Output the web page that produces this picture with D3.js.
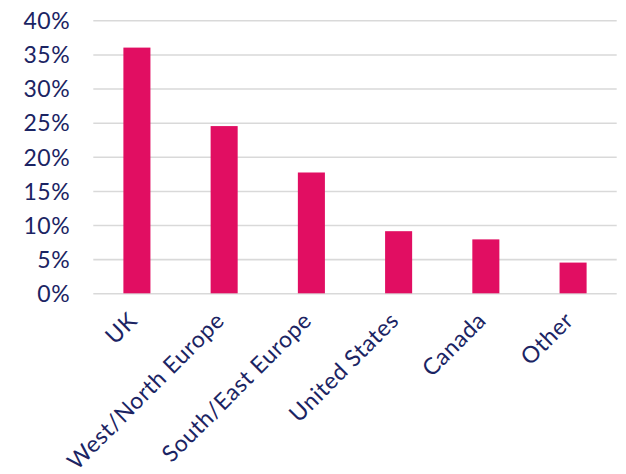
<!DOCTYPE html>
<html><head><meta charset="utf-8">
<script src="https://cdn.jsdelivr.net/npm/d3@7"></script>
<style>body{margin:0;background:#fff}svg{display:block}</style>
</head><body>
<script>
const categories = ["UK","West/North Europe","South/East Europe","United States","Canada","Other"];
const values = [36.0, 24.5, 17.7, 9.1, 7.9, 4.5];
const yTicks = [0,5,10,15,20,25,30,35,40];

const W = 626, H = 474;
const m = {left: 93.3, right: 9.3, top: 20.3, bottom: 180.7};
const svg = d3.select("body").append("svg").attr("width", W).attr("height", H);
const x = d3.scaleBand().domain(categories).range([m.left, W - m.right]).paddingInner(0.69).paddingOuter(0.345);
const y = d3.scaleLinear().domain([0, 40]).range([H - m.bottom, m.top]);
const navy = "#1b2463";
const font = "Lato, 'Open Sans', sans-serif";

const yAxis = svg.append("g").attr("transform", `translate(${m.left},0)`)
  .call(d3.axisLeft(y).tickValues(yTicks).tickFormat(d => d + "%").tickSize(-(W - m.left - m.right)).tickPadding(23));
yAxis.select(".domain").remove();
yAxis.selectAll(".tick line").attr("stroke", "#d9d9d9").attr("stroke-width", 1.6);
yAxis.selectAll(".tick text").attr("fill", navy).style("font-family", font).style("font-size", "23px")
  .style("letter-spacing", "0.6px").attr("dy", "0.36em");

svg.append("g").selectAll("rect").data(values).join("rect")
  .attr("x", (d, i) => x(categories[i]))
  .attr("width", x.bandwidth())
  .attr("y", d => y(d))
  .attr("height", d => y(0) - y(d))
  .attr("fill", "#e10e62");

const xAxis = svg.append("g").attr("transform", `translate(0,${H - m.bottom})`)
  .call(d3.axisBottom(x).tickSize(0).tickPadding(0));
xAxis.select(".domain").remove();
xAxis.selectAll(".tick text")
  .attr("fill", navy).style("font-family", font).style("font-size", "23px")
  .style("letter-spacing", "0.6px")
  .attr("text-anchor", "end")
  .attr("transform", "translate(-4,23) rotate(-45)")
  .attr("dy", "0.35em");
</script>
</body></html>
